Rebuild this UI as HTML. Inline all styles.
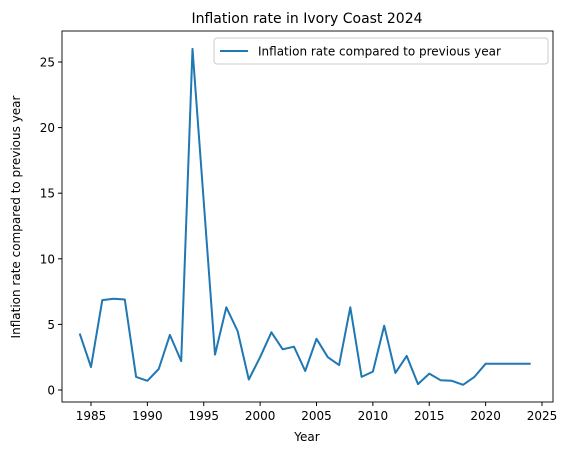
<!DOCTYPE html>
<html><head><meta charset="utf-8"><style>
body{margin:0;background:#fff;font-family:"Liberation Sans","DejaVu Sans",sans-serif;}
svg text{font-family:"DejaVu Sans","Liberation Sans",sans-serif;}
</style></head><body>
<svg id="chart" width="569" height="455" viewBox="0 0 569 455" xmlns="http://www.w3.org/2000/svg">
<rect width="569" height="455" fill="#fff"/>
<text x="307" y="23" font-size="14" text-anchor="middle" fill="#000">Inflation rate in Ivory Coast 2024</text>
<g id="axes"></g>
<path id="series" fill="none" stroke="#1f77b4" stroke-width="2" stroke-linejoin="round"/>
<rect x="62" y="31" width="491" height="371" fill="none" stroke="#000" stroke-width="0.9"/>
<g>
<rect x="214" y="38" width="334" height="26" fill="#fff" stroke="#ccc" rx="3"/>
<line x1="220" y1="51" x2="248" y2="51" stroke="#1f77b4" stroke-width="2"/>
<text x="258" y="55.5" font-size="12" fill="#000">Inflation rate compared to previous year</text>
</g>
<text x="307" y="441" font-size="12" text-anchor="middle">Year</text>
<text transform="translate(20,217) rotate(-90)" font-size="12" text-anchor="middle">Inflation rate compared to previous year</text>
</svg>
<script>
const years=[1984,1985,1986,1987,1988,1989,1990,1991,1992,1993,1994,1995,1996,1997,1998,1999,2000,2001,2002,2003,2004,2005,2006,2007,2008,2009,2010,2011,2012,2013,2014,2015,2016,2017,2018,2019,2020,2021,2022,2023,2024];
const rates=[4.3,1.75,6.85,6.95,6.9,1.0,0.7,1.6,4.2,2.2,26.0,14.3,2.7,6.3,4.5,0.8,2.5,4.4,3.1,3.3,1.45,3.9,2.5,1.9,6.3,1.0,1.4,4.9,1.3,2.6,0.45,1.25,0.75,0.7,0.4,1.0,2.0,2.0,2.0,2.0,2.0];
const xTicks=[1985,1990,1995,2000,2005,2010,2015,2020,2025];
const yTicks=[0,5,10,15,20,25];
function xs(v){return 91+(v-1985)*(451/40);}
function ys(v){return 390-v*(328/25);}
const ns="http://www.w3.org/2000/svg";
const g=document.getElementById('axes');
xTicks.forEach(t=>{
 const l=document.createElementNS(ns,'line');
 
 
 l.setAttribute('x1',xs(t));l.setAttribute('x2',xs(t));l.setAttribute('y1',402);l.setAttribute('y2',406);l.setAttribute('stroke','#000');
 g.appendChild(l);
 const tx=document.createElementNS(ns,'text');
 
 
 tx.setAttribute('x',xs(t));tx.setAttribute('y',420);tx.setAttribute('font-size','12');tx.setAttribute('text-anchor','middle');
 tx.textContent=t;g.appendChild(tx);
});
yTicks.forEach(t=>{
 const l=document.createElementNS(ns,'line');
 
 
 l.setAttribute('x1',58);l.setAttribute('x2',62);l.setAttribute('y1',ys(t));l.setAttribute('y2',ys(t));l.setAttribute('stroke','#000');
 g.appendChild(l);
 const tx=document.createElementNS(ns,'text');
 
 
 tx.setAttribute('x',55);tx.setAttribute('y',ys(t)+4.5);tx.setAttribute('font-size','12');tx.setAttribute('text-anchor','end');
 tx.textContent=t;g.appendChild(tx);
});
document.getElementById('series').setAttribute('d',years.map((y,i)=>(i?'L':'M')+xs(y).toFixed(1)+','+ys(rates[i]).toFixed(1)).join(''));
</script>
</body></html>
